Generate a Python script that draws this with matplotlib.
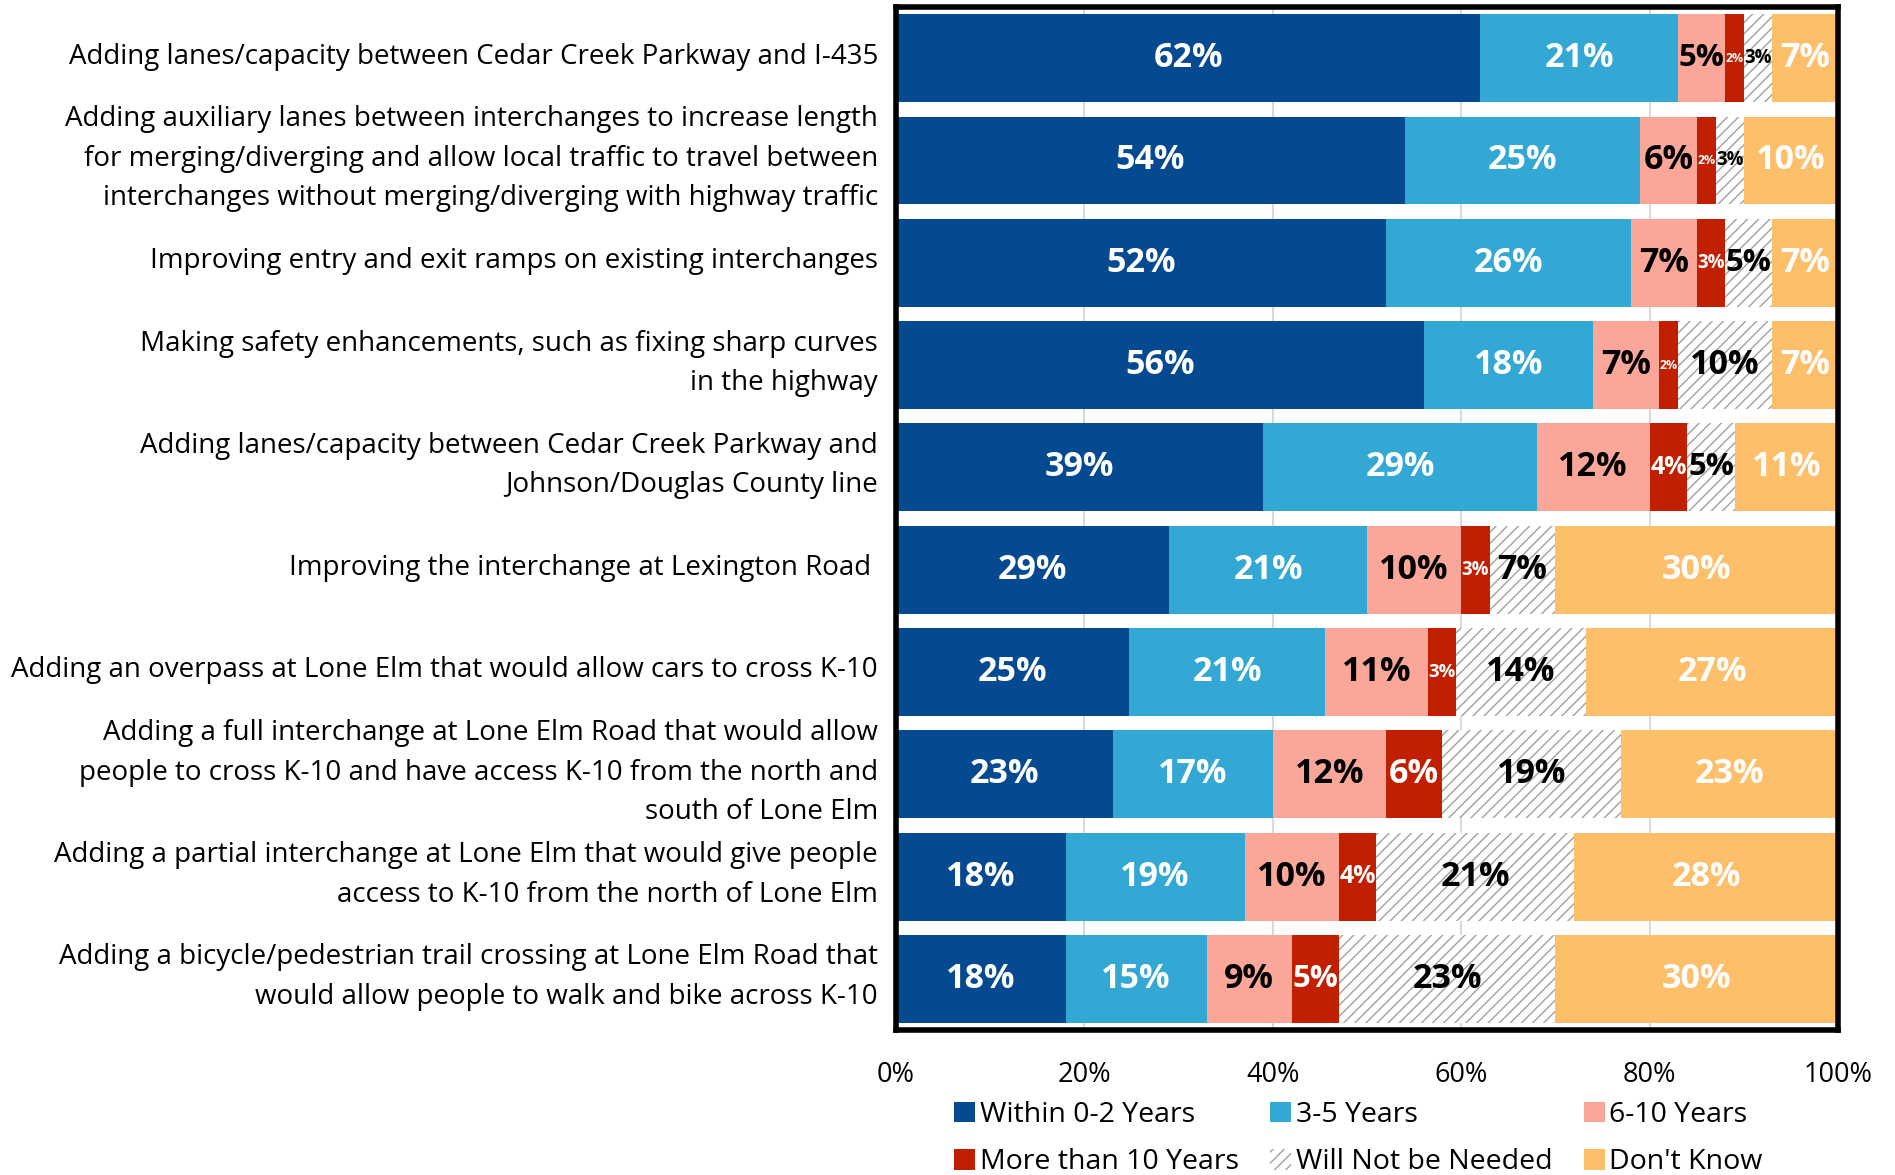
import matplotlib.pyplot as plt
import matplotlib.transforms as mtransforms
from matplotlib.patches import Patch
import numpy as np

plt.rcParams['font.family'] = ['Open Sans', 'DejaVu Sans']
plt.rcParams['hatch.linewidth'] = 1.0

# 各项目的完成时间意向（%）
projects = [
    'Adding lanes/capacity between Cedar Creek Parkway and I-435',
    'Adding auxiliary lanes between interchanges to increase length\n'
    'for merging/diverging and allow local traffic to travel between\n'
    'interchanges without merging/diverging with highway traffic',
    'Improving entry and exit ramps on existing interchanges',
    'Making safety enhancements, such as fixing sharp curves\nin the highway',
    'Adding lanes/capacity between Cedar Creek Parkway and\nJohnson/Douglas County line',
    'Improving the interchange at Lexington Road ',
    'Adding an overpass at Lone Elm that would allow cars to cross K-10',
    'Adding a full interchange at Lone Elm Road that would allow\n'
    'people to cross K-10 and have access K-10 from the north and\nsouth of Lone Elm',
    'Adding a partial interchange at Lone Elm that would give people\n'
    'access to K-10 from the north of Lone Elm',
    'Adding a bicycle/pedestrian trail crossing at Lone Elm Road that\n'
    'would allow people to walk and bike across K-10',
]
series_names = ['Within 0-2 Years', '3-5 Years', '6-10 Years',
                'More than 10 Years', 'Will Not be Needed', "Don't Know"]
within_0_2 = [62, 54, 52, 56, 39, 29, 25, 23, 18, 18]
years_3_5 = [21, 25, 26, 18, 29, 21, 21, 17, 19, 15]
years_6_10 = [5, 6, 7, 7, 12, 10, 11, 12, 10, 9]
more_than_10 = [2, 2, 3, 2, 4, 3, 3, 6, 4, 5]
not_needed = [3, 3, 5, 10, 5, 7, 14, 19, 21, 23]
dont_know = [7, 10, 7, 7, 11, 30, 27, 23, 28, 30]

colors = ['#054a91', '#33a8d4', '#faa79a', '#c01f00', 'white', '#febf6a']
text_colors = ['white', 'white', 'black', 'white', 'black', 'white']
hatches = [None, None, None, None, '///', None]

data = np.array([within_0_2, years_3_5, years_6_10, more_than_10,
                 not_needed, dont_know], dtype=float)
# 100% 堆积，按行归一化
share = data / data.sum(axis=0) * 100

fig = plt.figure(figsize=(18.95, 11.75), dpi=100)
ax = fig.add_axes([0.4728, 0.1234, 0.4972, 0.8706])

y = np.arange(len(projects))
left = np.zeros(len(projects))
bars = []
for i in range(len(series_names)):
    b = ax.barh(y, share[i], left=left, height=0.86, color=colors[i],
                edgecolor='#a0a0a0' if hatches[i] else colors[i],
                linewidth=0, hatch=hatches[i], zorder=2)
    bars.append(b)
    left += share[i]

ax.set_xlim(0, 100)
ax.set_ylim(len(projects) - 0.5, -0.5)
ax.set_xticks(np.arange(0, 101, 20))
ax.set_xticklabels([f'{v}%' for v in range(0, 101, 20)], fontsize=19.5)
ax.set_yticks(y)
ax.set_yticklabels(projects, fontsize=20, linespacing=1.55)
ax.tick_params(axis='both', length=0)
ax.tick_params(axis='x', pad=22)
ax.tick_params(axis='y', pad=13)
# 类目文字略微上移
shift = mtransforms.ScaledTranslation(0, 1.2 / 72, fig.dpi_scale_trans)
for lab in ax.get_yticklabels():
    lab.set_va('center')
    lab.set_transform(lab.get_transform() + shift)
ax.xaxis.grid(True, color='#d9d9d9', linewidth=1.5, zorder=0)
ax.set_axisbelow(True)
for s in ax.spines.values():
    s.set_linewidth(4)
    s.set_color('black')

# 数据标签：字号随色块宽度缩放
fig.canvas.draw()
renderer = fig.canvas.get_renderer()
px_per_pct = ax.transData.transform((1, 0))[0] - ax.transData.transform((0, 0))[0]
for i in range(len(series_names)):
    for j, rect in enumerate(bars[i]):
        w = rect.get_width()
        cx = rect.get_x() + w / 2
        t = ax.text(cx, j, f'{int(data[i, j])}%', ha='center', va='center',
                    color=text_colors[i], fontsize=24.5, fontweight='bold', zorder=3)
        tw = t.get_window_extent(renderer).width
        avail = w * px_per_pct * 0.97
        if tw > avail:
            t.set_fontsize(24.5 * avail / tw)

handles = [Patch(facecolor=colors[i], edgecolor='#a0a0a0' if hatches[i] else colors[i],
                 linewidth=0, hatch=hatches[i]) for i in range(len(series_names))]
order = [0, 3, 1, 4, 2, 5]
fig.legend([handles[k] for k in order], [series_names[k] for k in order],
           ncol=3, loc='upper left', bbox_to_anchor=(0.5035, 0.063),
           frameon=False, fontsize=20.5, handlelength=0.75, handleheight=0.75,
           handletextpad=0.15, columnspacing=1.1, labelspacing=0.68,
           borderaxespad=0, borderpad=0)

fig.savefig('out.png', dpi=100)
